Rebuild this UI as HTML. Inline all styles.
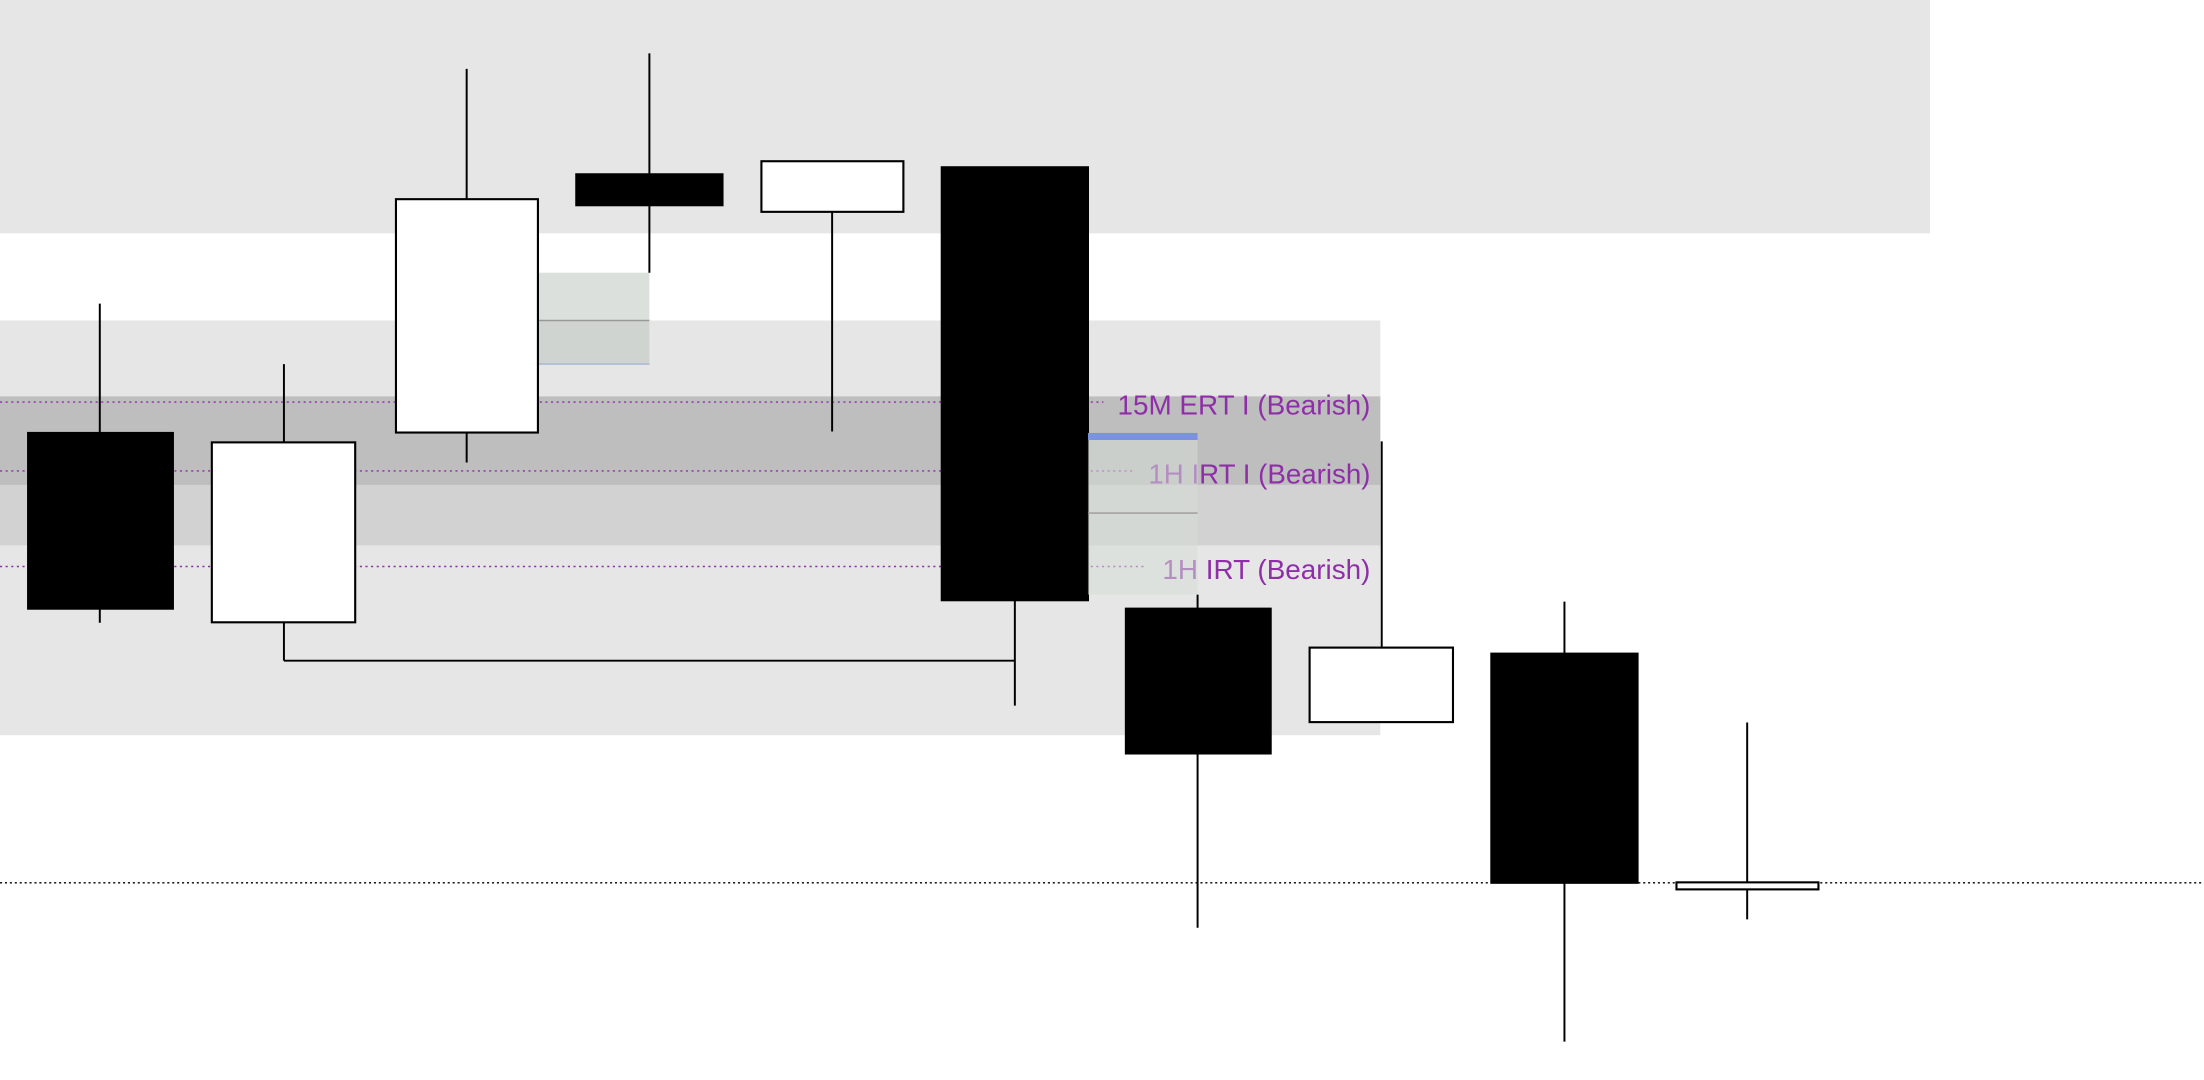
<!DOCTYPE html>
<html><head><meta charset="utf-8"><style>html,body{margin:0;padding:0;background:#fff;overflow:hidden}svg{display:block}</style></head>
<body>
<svg width="2204" height="1080" viewBox="0 0 1568 768.3" preserveAspectRatio="none" xmlns="http://www.w3.org/2000/svg">
<rect x="0" y="0" width="1373" height="166" fill="#e6e6e6"/>
<rect x="0" y="228" width="982" height="295" fill="#e6e6e6"/>
<rect x="0" y="282" width="982" height="63" fill="#bebebe"/>
<rect x="0" y="345" width="982" height="43" fill="#d2d2d2"/>
<rect x="383" y="194" width="79" height="34" fill="#dce0dc"/>
<rect x="383" y="228" width="79" height="31" fill="#d0d4d0"/>
<line x1="383" y1="228" x2="462" y2="228" stroke="#999" stroke-width="1"/>
<line x1="383" y1="259" x2="462" y2="259" stroke="#a3b3d3" stroke-width="1"/>
<g stroke="#8e2fa8" stroke-width="1" stroke-dasharray="1.5,2.5">
<line x1="0" y1="286" x2="785" y2="286"/>
<line x1="0" y1="335" x2="806" y2="335"/>
<line x1="0" y1="403" x2="816" y2="403"/>
</g>
<line x1="0" y1="628" x2="1568" y2="628" stroke="#000" stroke-width="1" stroke-dasharray="1.5,2"/>
<g font-family="Liberation Sans, sans-serif" font-size="20" fill="#8e2fa8" text-anchor="end">
<text x="975" y="295" textLength="180" lengthAdjust="spacingAndGlyphs">15M ERT I (Bearish)</text>
<text x="975" y="344" textLength="158" lengthAdjust="spacingAndGlyphs">1H IRT I (Bearish)</text>
<text x="975" y="412" textLength="148" lengthAdjust="spacingAndGlyphs">1H IRT (Bearish)</text>
</g>
<g stroke="#000" stroke-width="1.4">
<line x1="71" y1="216" x2="71" y2="443"/>
<line x1="202" y1="259" x2="202" y2="470"/>
<line x1="202" y1="470" x2="722" y2="470"/>
<line x1="332" y1="49" x2="332" y2="329"/>
<line x1="462" y1="38" x2="462" y2="194"/>
<line x1="592" y1="151" x2="592" y2="307"/>
<line x1="722" y1="427" x2="722" y2="502"/>
<line x1="852" y1="423" x2="852" y2="660"/>
<line x1="983" y1="314" x2="983" y2="460"/>
<line x1="1113" y1="428" x2="1113" y2="741"/>
<line x1="1243" y1="514" x2="1243" y2="654"/>
</g>
<g stroke="#000" stroke-width="1.5">
<rect x="20" y="308" width="103" height="125" fill="#000"/>
<rect x="150.7" y="314.7" width="102" height="128" fill="#fff"/>
<rect x="281.7" y="141.7" width="101" height="166" fill="#fff"/>
<rect x="410" y="124" width="104" height="22" fill="#000"/>
<rect x="541.7" y="114.7" width="101" height="36" fill="#fff"/>
<rect x="670" y="119" width="104" height="308" fill="#000"/>
<rect x="801" y="433" width="103" height="103" fill="#000"/>
<rect x="931.7" y="460.7" width="102" height="53" fill="#fff"/>
<rect x="1061" y="465" width="104" height="163" fill="#000"/>
<rect x="1192.7" y="627.7" width="101" height="5" fill="#fff"/>
</g>
<rect x="774" y="313" width="78" height="110" fill="#d6dcd6" fill-opacity="0.55"/>
<line x1="774" y1="365" x2="852" y2="365" stroke="#999" stroke-width="1"/>
<rect x="774" y="308" width="78" height="5" fill="#7b93dd"/>
</svg>
</body></html>
